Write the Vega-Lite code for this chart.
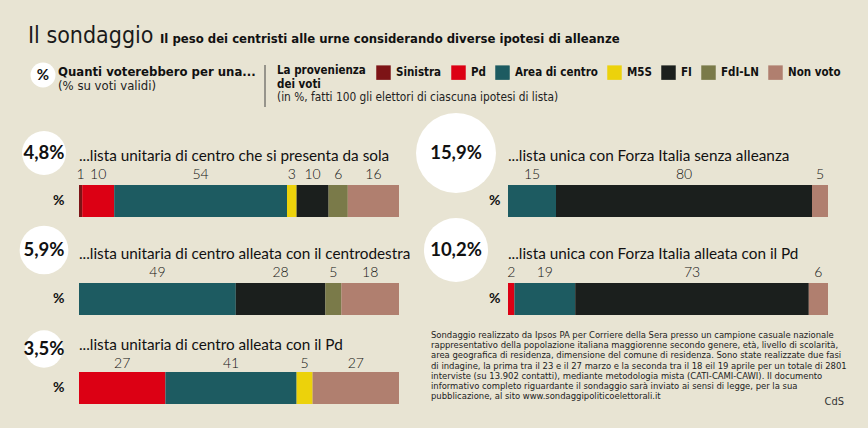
{
  "$schema": "https://vega.github.io/schema/vega-lite/v6.json",
  "background": "#e8e4d3",
  "padding": {"left": 9, "top": 0, "right": 40, "bottom": 24},
  "columns": 5,
  "bounds": "flush",
  "spacing": 0,
  "datasets": {
    "seg": [
      {"s": "s1", "party": "Sinistra", "value": 1, "ord": 1, "unit": "%"},
      {"s": "s1", "party": "Pd", "value": 10, "ord": 2, "unit": "%"},
      {"s": "s1", "party": "Area di centro", "value": 54, "ord": 3, "unit": "%"},
      {"s": "s1", "party": "M5S", "value": 3, "ord": 4, "unit": "%"},
      {"s": "s1", "party": "FI", "value": 10, "ord": 5, "unit": "%"},
      {"s": "s1", "party": "FdI-LN", "value": 6, "ord": 6, "unit": "%"},
      {"s": "s1", "party": "Non voto", "value": 16, "ord": 7, "unit": "%"},
      {"s": "s2", "party": "Area di centro", "value": 15, "ord": 3, "unit": "%"},
      {"s": "s2", "party": "FI", "value": 80, "ord": 5, "unit": "%"},
      {"s": "s2", "party": "Non voto", "value": 5, "ord": 7, "unit": "%"},
      {"s": "s3", "party": "Area di centro", "value": 49, "ord": 3, "unit": "%"},
      {"s": "s3", "party": "FI", "value": 28, "ord": 5, "unit": "%"},
      {"s": "s3", "party": "FdI-LN", "value": 5, "ord": 6, "unit": "%"},
      {"s": "s3", "party": "Non voto", "value": 18, "ord": 7, "unit": "%"},
      {"s": "s4", "party": "Pd", "value": 2, "ord": 2, "unit": "%"},
      {"s": "s4", "party": "Area di centro", "value": 19, "ord": 3, "unit": "%"},
      {"s": "s4", "party": "FI", "value": 73, "ord": 5, "unit": "%"},
      {"s": "s4", "party": "Non voto", "value": 6, "ord": 7, "unit": "%"},
      {"s": "s5", "party": "Pd", "value": 27, "ord": 2, "unit": "%"},
      {"s": "s5", "party": "Area di centro", "value": 41, "ord": 3, "unit": "%"},
      {"s": "s5", "party": "M5S", "value": 5, "ord": 4, "unit": "%"},
      {"s": "s5", "party": "Non voto", "value": 27, "ord": 7, "unit": "%"}
    ],
    "tot": [
      {"s": "s1", "pct": 4.8, "label": "4,8%"},
      {"s": "s2", "pct": 15.9, "label": "15,9%"},
      {"s": "s3", "pct": 5.9, "label": "5,9%"},
      {"s": "s4", "pct": 10.2, "label": "10,2%"},
      {"s": "s5", "pct": 3.5, "label": "3,5%"}
    ]
  },
  "concat": [
    {
      "width": 70,
      "height": 121,
      "data": {"values": [{"k": 1}]},
      "layer": [
        {"mark": {"type": "text", "text": "Il sondaggio", "align": "left", "baseline": "alphabetic", "font": "Liberation Sans Narrow, DejaVu Sans Condensed, Roboto", "fontSize": 23, "color": "#1a1a1a"}, "encoding": {"x": {"value": 19}, "y": {"value": 43}}},
        {"mark": {"type": "text", "text": "Il peso dei centristi alle urne considerando diverse ipotesi di alleanze", "align": "left", "baseline": "alphabetic", "font": "Liberation Sans Narrow, DejaVu Sans Condensed, Roboto", "fontSize": 13, "fontWeight": "bold", "color": "#111111"}, "encoding": {"x": {"value": 151}, "y": {"value": 43}}},
        {"mark": {"type": "circle", "size": 625, "color": "#ffffff", "opacity": 1}, "encoding": {"x": {"value": 34}, "y": {"value": 75}}},
        {"mark": {"type": "text", "text": "%", "align": "center", "baseline": "middle", "font": "Lato", "fontSize": 15, "fontWeight": "bold", "color": "#111111"}, "encoding": {"x": {"value": 34}, "y": {"value": 75}}},
        {"mark": {"type": "text", "text": "Quanti voterebbero per una...", "align": "left", "baseline": "alphabetic", "font": "Liberation Sans Narrow, DejaVu Sans Condensed, Roboto", "fontSize": 13, "fontWeight": "bold", "color": "#111111"}, "encoding": {"x": {"value": 49}, "y": {"value": 76}}},
        {"mark": {"type": "text", "text": "(% su voti validi)", "align": "left", "baseline": "alphabetic", "font": "Liberation Sans Narrow, DejaVu Sans Condensed, Roboto", "fontSize": 13, "color": "#222222"}, "encoding": {"x": {"value": 49}, "y": {"value": 90}}},
        {"mark": {"type": "rule", "color": "#444444", "strokeWidth": 1}, "encoding": {"x": {"value": 256}, "y": {"value": 65}, "y2": {"value": 107}}},
        {"mark": {"type": "text", "text": ["La provenienza", "dei voti"], "lineHeight": 14, "align": "left", "baseline": "alphabetic", "font": "Liberation Sans Narrow, DejaVu Sans Condensed, Roboto", "fontSize": 11.5, "fontWeight": "bold", "color": "#111111"}, "encoding": {"x": {"value": 268}, "y": {"value": 74}}},
        {"mark": {"type": "text", "text": "(in %, fatti 100 gli elettori di ciascuna ipotesi di lista)", "align": "left", "baseline": "alphabetic", "font": "Liberation Sans Narrow, DejaVu Sans Condensed, Roboto", "fontSize": 11.8, "color": "#222222"}, "encoding": {"x": {"value": 268}, "y": {"value": 101}}}
      ]
    },
    {"width": 1, "height": 121, "data": {"values": []}, "mark": "point"},
    {"width": 1, "height": 121, "data": {"values": []}, "mark": "point"},
    {"width": 1, "height": 121, "data": {"values": []}, "mark": "point"},
    {"width": 1, "height": 121, "data": {"values": []}, "mark": "point"},

    {"width": 70, "height": 64, "data": {"name": "tot"}, "transform": [{"filter": "datum.s === 's1'"}],
     "layer": [
       {"mark": {"type": "circle", "color": "#ffffff", "opacity": 1}, "encoding": {"size": {"field": "pct", "type": "quantitative", "scale": {"domain": [0, 15.9], "range": [0, 6400]}, "legend": null}}},
       {"mark": {"type": "text", "font": "Lato", "fontSize": 18.5, "fontWeight": "bold", "color": "#111111"}, "encoding": {"text": {"field": "label"}}}
     ]},
    {"width": 1, "height": 64, "data": {"values": []}, "mark": "point"},
    {"width": 1, "height": 64, "data": {"values": []}, "mark": "point"},
    {"width": 104, "height": 64, "data": {"name": "tot"}, "transform": [{"filter": "datum.s === 's2'"}],
     "layer": [
       {"mark": {"type": "circle", "color": "#ffffff", "opacity": 1}, "encoding": {"size": {"field": "pct", "type": "quantitative", "scale": {"domain": [0, 15.9], "range": [0, 6400]}, "legend": null}}},
       {"mark": {"type": "text", "font": "Lato", "fontSize": 18.5, "fontWeight": "bold", "color": "#111111"}, "encoding": {"text": {"field": "label"}}}
     ]},
    {"width": 1, "height": 64, "data": {"values": []}, "mark": "point"},

    {"width": 1, "height": 32, "data": {"values": []}, "mark": "point"},
    {
      "width": 320, "height": 32,
      "data": {"name": "seg"},
      "transform": [
        {"filter": "datum.s === 's1'"},
        {"stack": "value", "groupby": ["s"], "sort": [{"field": "ord", "order": "ascending"}], "as": ["v0", "v1"]},
        {"calculate": "(datum.v0 + datum.v1) / 2", "as": "mid"}
      ],
      "title": {"text": "...lista unitaria di centro che si presenta da sola"},
      "encoding": {"y": {"field": "unit", "type": "nominal", "scale": {"paddingInner": 0, "paddingOuter": 0}, "axis": {"title": null, "ticks": false, "domain": false, "labelFont": "Lato", "labelFontSize": 14, "labelFontWeight": "bold", "labelColor": "#111111", "labelPadding": 15}}},
      "layer": [
        {"mark": {"type": "bar"}, "encoding": {
          "x": {"field": "v0", "type": "quantitative", "scale": {"domain": [0, 100], "nice": false, "zero": false}, "axis": null},
          "x2": {"field": "v1"},
          "color": {"field": "party", "type": "nominal", "scale": {"domain": ["Sinistra", "Pd", "Area di centro", "M5S", "FI", "FdI-LN", "Non voto"], "range": ["#7d1416", "#dc0014", "#1d5b61", "#ecd20b", "#1b1f1d", "#7a7a49", "#b07f6f"]},
            "legend": {"orient": "none", "legendX": 367, "legendY": 65, "direction": "horizontal", "columns": 7, "title": null, "symbolType": "square", "symbolSize": 210, "symbolStrokeWidth": 0, "symbolOpacity": 1, "labelFont": "Liberation Sans Narrow, DejaVu Sans Condensed, Roboto", "labelFontSize": 11.5, "labelFontWeight": "bold", "labelColor": "#111111", "labelOffset": 5, "columnPadding": 9, "padding": 0}}
        }},
        {"mark": {"type": "text", "dy": -22, "baseline": "alphabetic", "font": "Lato", "fontSize": 14, "fontWeight": 300, "color": "#111111"}, "encoding": {
          "x": {"field": "mid", "type": "quantitative", "axis": null},
          "text": {"field": "value", "type": "quantitative"}
        }}
      ]
    },
    {"width": 5, "height": 32, "data": {"values": []}, "mark": "point"},
    {"width": 1, "height": 32, "data": {"values": []}, "mark": "point"},
    {
      "width": 320, "height": 32,
      "data": {"name": "seg"},
      "transform": [
        {"filter": "datum.s === 's2'"},
        {"stack": "value", "groupby": ["s"], "sort": [{"field": "ord", "order": "ascending"}], "as": ["v0", "v1"]},
        {"calculate": "(datum.v0 + datum.v1) / 2", "as": "mid"}
      ],
      "title": {"text": "...lista unica con Forza Italia senza alleanza"},
      "encoding": {"y": {"field": "unit", "type": "nominal", "scale": {"paddingInner": 0, "paddingOuter": 0}, "axis": {"title": null, "ticks": false, "domain": false, "labelFont": "Lato", "labelFontSize": 14, "labelFontWeight": "bold", "labelColor": "#111111", "labelPadding": 8}}},
      "layer": [
        {"mark": {"type": "bar"}, "encoding": {
          "x": {"field": "v0", "type": "quantitative", "scale": {"domain": [0, 100], "nice": false, "zero": false}, "axis": null},
          "x2": {"field": "v1"},
          "color": {"field": "party", "type": "nominal", "scale": {"domain": ["Sinistra", "Pd", "Area di centro", "M5S", "FI", "FdI-LN", "Non voto"], "range": ["#7d1416", "#dc0014", "#1d5b61", "#ecd20b", "#1b1f1d", "#7a7a49", "#b07f6f"]}}
        }},
        {"mark": {"type": "text", "dy": -22, "baseline": "alphabetic", "font": "Lato", "fontSize": 14, "fontWeight": 300, "color": "#111111"}, "encoding": {
          "x": {"field": "mid", "type": "quantitative", "axis": null},
          "text": {"field": "value", "type": "quantitative"}
        }}
      ]
    },

    {"width": 70, "height": 66, "data": {"name": "tot"}, "transform": [{"filter": "datum.s === 's3'"}],
     "layer": [
       {"mark": {"type": "circle", "color": "#ffffff", "opacity": 1}, "encoding": {"size": {"field": "pct", "type": "quantitative", "scale": {"domain": [0, 15.9], "range": [0, 6400]}, "legend": null}}},
       {"mark": {"type": "text", "font": "Lato", "fontSize": 18.5, "fontWeight": "bold", "color": "#111111"}, "encoding": {"text": {"field": "label"}}}
     ]},
    {"width": 1, "height": 66, "data": {"values": []}, "mark": "point"},
    {"width": 1, "height": 66, "data": {"values": []}, "mark": "point"},
    {"width": 104, "height": 66, "data": {"name": "tot"}, "transform": [{"filter": "datum.s === 's4'"}],
     "layer": [
       {"mark": {"type": "circle", "color": "#ffffff", "opacity": 1}, "encoding": {"size": {"field": "pct", "type": "quantitative", "scale": {"domain": [0, 15.9], "range": [0, 6400]}, "legend": null}}},
       {"mark": {"type": "text", "font": "Lato", "fontSize": 18.5, "fontWeight": "bold", "color": "#111111"}, "encoding": {"text": {"field": "label"}}}
     ]},
    {"width": 1, "height": 66, "data": {"values": []}, "mark": "point"},

    {"width": 1, "height": 32, "data": {"values": []}, "mark": "point"},
    {
      "width": 320, "height": 32,
      "data": {"name": "seg"},
      "transform": [
        {"filter": "datum.s === 's3'"},
        {"stack": "value", "groupby": ["s"], "sort": [{"field": "ord", "order": "ascending"}], "as": ["v0", "v1"]},
        {"calculate": "(datum.v0 + datum.v1) / 2", "as": "mid"}
      ],
      "title": {"text": "...lista unitaria di centro alleata con il centrodestra"},
      "encoding": {"y": {"field": "unit", "type": "nominal", "scale": {"paddingInner": 0, "paddingOuter": 0}, "axis": {"title": null, "ticks": false, "domain": false, "labelFont": "Lato", "labelFontSize": 14, "labelFontWeight": "bold", "labelColor": "#111111", "labelPadding": 15}}},
      "layer": [
        {"mark": {"type": "bar"}, "encoding": {
          "x": {"field": "v0", "type": "quantitative", "scale": {"domain": [0, 100], "nice": false, "zero": false}, "axis": null},
          "x2": {"field": "v1"},
          "color": {"field": "party", "type": "nominal", "scale": {"domain": ["Sinistra", "Pd", "Area di centro", "M5S", "FI", "FdI-LN", "Non voto"], "range": ["#7d1416", "#dc0014", "#1d5b61", "#ecd20b", "#1b1f1d", "#7a7a49", "#b07f6f"]}}
        }},
        {"mark": {"type": "text", "dy": -22, "baseline": "alphabetic", "font": "Lato", "fontSize": 14, "fontWeight": 300, "color": "#111111"}, "encoding": {
          "x": {"field": "mid", "type": "quantitative", "axis": null},
          "text": {"field": "value", "type": "quantitative"}
        }}
      ]
    },
    {"width": 5, "height": 32, "data": {"values": []}, "mark": "point"},
    {"width": 1, "height": 32, "data": {"values": []}, "mark": "point"},
    {
      "width": 320, "height": 32,
      "data": {"name": "seg"},
      "transform": [
        {"filter": "datum.s === 's4'"},
        {"stack": "value", "groupby": ["s"], "sort": [{"field": "ord", "order": "ascending"}], "as": ["v0", "v1"]},
        {"calculate": "(datum.v0 + datum.v1) / 2", "as": "mid"}
      ],
      "title": {"text": "...lista unica con Forza Italia alleata con il Pd"},
      "encoding": {"y": {"field": "unit", "type": "nominal", "scale": {"paddingInner": 0, "paddingOuter": 0}, "axis": {"title": null, "ticks": false, "domain": false, "labelFont": "Lato", "labelFontSize": 14, "labelFontWeight": "bold", "labelColor": "#111111", "labelPadding": 8}}},
      "layer": [
        {"mark": {"type": "bar"}, "encoding": {
          "x": {"field": "v0", "type": "quantitative", "scale": {"domain": [0, 100], "nice": false, "zero": false}, "axis": null},
          "x2": {"field": "v1"},
          "color": {"field": "party", "type": "nominal", "scale": {"domain": ["Sinistra", "Pd", "Area di centro", "M5S", "FI", "FdI-LN", "Non voto"], "range": ["#7d1416", "#dc0014", "#1d5b61", "#ecd20b", "#1b1f1d", "#7a7a49", "#b07f6f"]}}
        }},
        {"mark": {"type": "text", "dy": -22, "baseline": "alphabetic", "font": "Lato", "fontSize": 14, "fontWeight": 300, "color": "#111111"}, "encoding": {
          "x": {"field": "mid", "type": "quantitative", "axis": null},
          "text": {"field": "value", "type": "quantitative"}
        }}
      ]
    },

    {"width": 1, "height": 11, "data": {"values": []}, "mark": "point"},
    {"width": 1, "height": 11, "data": {"values": []}, "mark": "point"},
    {"width": 1, "height": 11, "data": {"values": []}, "mark": "point"},
    {"width": 1, "height": 11, "data": {"values": []}, "mark": "point"},
    {"width": 1, "height": 11, "data": {"values": []}, "mark": "point"},

    {"width": 70, "height": 46, "data": {"name": "tot"}, "transform": [{"filter": "datum.s === 's5'"}],
     "layer": [
       {"mark": {"type": "circle", "color": "#ffffff", "opacity": 1}, "encoding": {"size": {"field": "pct", "type": "quantitative", "scale": {"domain": [0, 15.9], "range": [0, 6400]}, "legend": null}}},
       {"mark": {"type": "text", "font": "Lato", "fontSize": 18.5, "fontWeight": "bold", "color": "#111111"}, "encoding": {"text": {"field": "label"}}}
     ]},
    {"width": 1, "height": 46, "data": {"values": []}, "mark": "point"},
    {
      "width": 5, "height": 46,
      "data": {"values": [{"lines": [
        "Sondaggio realizzato da Ipsos PA per Corriere della Sera presso un campione casuale nazionale",
        "rappresentativo della popolazione italiana maggiorenne secondo genere, età, livello di scolarità,",
        "area geografica di residenza, dimensione del comune di residenza. Sono state realizzate due fasi",
        "di indagine, la prima tra il 23 e il 27 marzo e la seconda tra il 18 eil 19 aprile per un totale di 2801",
        "interviste (su 13.902 contatti), mediante metodologia mista (CATI-CAMI-CAWI). Il documento",
        "informativo completo riguardante il sondaggio sarà inviato ai sensi di legge, per la sua",
        "pubblicazione, al sito www.sondaggipoliticoelettorali.it"
      ], "src": "CdS"}]},
      "layer": [
        {"mark": {"type": "text", "align": "left", "baseline": "alphabetic", "font": "Liberation Sans Narrow, DejaVu Sans Condensed, Roboto", "fontSize": 9.4, "lineHeight": 10.2, "color": "#222222"}, "encoding": {"x": {"value": 32}, "y": {"value": 12}, "text": {"field": "lines"}}},
        {"mark": {"type": "text", "align": "right", "baseline": "alphabetic", "font": "Liberation Sans Narrow, DejaVu Sans Condensed, Roboto", "fontSize": 11, "color": "#333333"}, "encoding": {"x": {"value": 445}, "y": {"value": 79}, "text": {"field": "src"}}}
      ]
    },
    {"width": 1, "height": 46, "data": {"values": []}, "mark": "point"},
    {"width": 1, "height": 46, "data": {"values": []}, "mark": "point"},

    {"width": 1, "height": 32, "data": {"values": []}, "mark": "point"},
    {
      "width": 320, "height": 32,
      "data": {"name": "seg"},
      "transform": [
        {"filter": "datum.s === 's5'"},
        {"stack": "value", "groupby": ["s"], "sort": [{"field": "ord", "order": "ascending"}], "as": ["v0", "v1"]},
        {"calculate": "(datum.v0 + datum.v1) / 2", "as": "mid"}
      ],
      "title": {"text": "...lista unitaria di centro alleata con il Pd"},
      "encoding": {"y": {"field": "unit", "type": "nominal", "scale": {"paddingInner": 0, "paddingOuter": 0}, "axis": {"title": null, "ticks": false, "domain": false, "labelFont": "Lato", "labelFontSize": 14, "labelFontWeight": "bold", "labelColor": "#111111", "labelPadding": 15}}},
      "layer": [
        {"mark": {"type": "bar"}, "encoding": {
          "x": {"field": "v0", "type": "quantitative", "scale": {"domain": [0, 100], "nice": false, "zero": false}, "axis": null},
          "x2": {"field": "v1"},
          "color": {"field": "party", "type": "nominal", "scale": {"domain": ["Sinistra", "Pd", "Area di centro", "M5S", "FI", "FdI-LN", "Non voto"], "range": ["#7d1416", "#dc0014", "#1d5b61", "#ecd20b", "#1b1f1d", "#7a7a49", "#b07f6f"]}}
        }},
        {"mark": {"type": "text", "dy": -20, "baseline": "alphabetic", "font": "Lato", "fontSize": 14, "fontWeight": 300, "color": "#111111"}, "encoding": {
          "x": {"field": "mid", "type": "quantitative", "axis": null},
          "text": {"field": "value", "type": "quantitative"}
        }}
      ]
    },
    {"width": 1, "height": 32, "data": {"values": []}, "mark": "point"},
    {"width": 1, "height": 32, "data": {"values": []}, "mark": "point"},
    {"width": 1, "height": 32, "data": {"values": []}, "mark": "point"}
  ],
  "config": {
    "view": {"stroke": null},
    "title": {"anchor": "start", "frame": "group", "font": "Lato", "fontSize": 15.3, "fontWeight": "normal", "color": "#111111", "offset": 4, "baseline": "bottom"}
  }
}
